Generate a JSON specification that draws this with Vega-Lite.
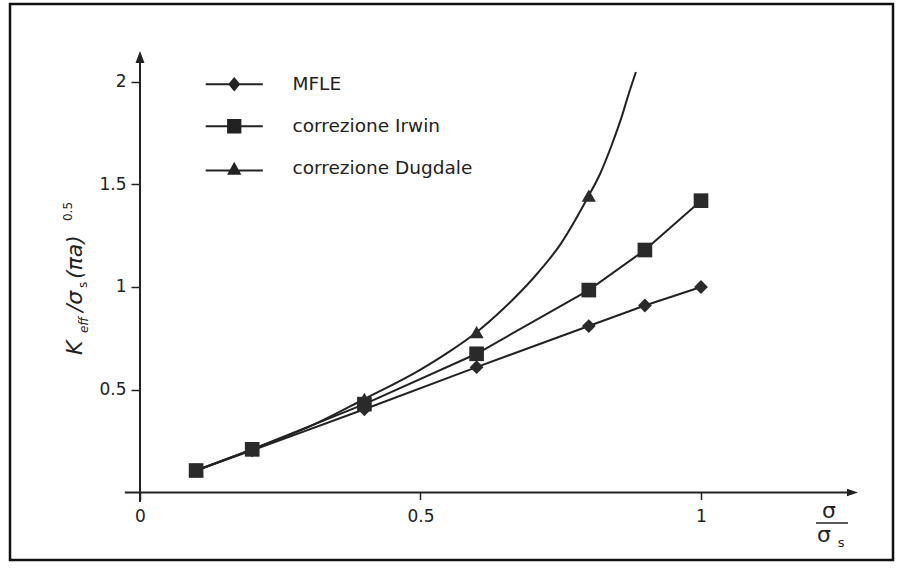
{
  "$schema": "https://vega.github.io/schema/vega-lite/v6.json",
  "width": 883,
  "height": 556,
  "autosize": {"type": "none"},
  "padding": {"left": 10, "top": 4, "right": 10, "bottom": 11},
  "background": "white",
  "config": {
    "view": {"stroke": "#111", "strokeWidth": 2.5},
    "axis": {"grid": false, "domain": false, "tickColor": "#222", "tickWidth": 1.5, "labelColor": "#222", "labelFont": "DejaVu Sans", "labelFontSize": 17, "title": null}
  },
  "data": {
    "values": [
      {"series": "correzione Dugdale", "x": 0.1, "y": 0.107, "marker": true},
      {"series": "correzione Dugdale", "x": 0.2, "y": 0.21, "marker": true},
      {"series": "correzione Dugdale", "x": 0.3, "y": 0.318, "marker": false},
      {"series": "correzione Dugdale", "x": 0.4, "y": 0.455, "marker": true},
      {"series": "correzione Dugdale", "x": 0.5, "y": 0.598, "marker": false},
      {"series": "correzione Dugdale", "x": 0.55, "y": 0.683, "marker": false},
      {"series": "correzione Dugdale", "x": 0.6, "y": 0.78, "marker": true},
      {"series": "correzione Dugdale", "x": 0.65, "y": 0.9, "marker": false},
      {"series": "correzione Dugdale", "x": 0.7, "y": 1.04, "marker": false},
      {"series": "correzione Dugdale", "x": 0.75, "y": 1.21, "marker": false},
      {"series": "correzione Dugdale", "x": 0.8, "y": 1.445, "marker": true},
      {"series": "correzione Dugdale", "x": 0.82, "y": 1.55, "marker": false},
      {"series": "correzione Dugdale", "x": 0.84, "y": 1.685, "marker": false},
      {"series": "correzione Dugdale", "x": 0.86, "y": 1.84, "marker": false},
      {"series": "correzione Dugdale", "x": 0.87, "y": 1.93, "marker": false},
      {"series": "correzione Dugdale", "x": 0.884, "y": 2.046, "marker": false},
      {"series": "MFLE", "x": 0.1, "y": 0.107, "marker": true},
      {"series": "MFLE", "x": 0.2, "y": 0.205, "marker": true},
      {"series": "MFLE", "x": 0.4, "y": 0.405, "marker": true},
      {"series": "MFLE", "x": 0.6, "y": 0.61, "marker": true},
      {"series": "MFLE", "x": 0.8, "y": 0.81, "marker": true},
      {"series": "MFLE", "x": 0.9, "y": 0.91, "marker": true},
      {"series": "MFLE", "x": 1.0, "y": 1.0, "marker": true},
      {"series": "correzione Irwin", "x": 0.1, "y": 0.107, "marker": true},
      {"series": "correzione Irwin", "x": 0.2, "y": 0.21, "marker": true},
      {"series": "correzione Irwin", "x": 0.4, "y": 0.43, "marker": true},
      {"series": "correzione Irwin", "x": 0.6, "y": 0.675, "marker": true},
      {"series": "correzione Irwin", "x": 0.8, "y": 0.985, "marker": true},
      {"series": "correzione Irwin", "x": 0.9, "y": 1.18, "marker": true},
      {"series": "correzione Irwin", "x": 1.0, "y": 1.42, "marker": true}
    ]
  },
  "layer": [
    {
      "data": {"values": [{}]},
      "mark": {"type": "rule", "color": "#222", "strokeWidth": 2},
      "encoding": {
        "x": {"datum": -0.027, "type": "quantitative", "scale": {"domain": [-0.23173, 1.34225], "nice": false, "zero": false}, "axis": {"values": [0, 0.5, 1], "offset": -67.5, "tickSize": 7, "labelPadding": 9, "format": "~g"}},
        "x2": {"datum": 1.27},
        "y": {"datum": 0, "type": "quantitative", "scale": {"domain": [-0.32847, 2.37713], "nice": false, "zero": false}, "axis": {"values": [0.5, 1, 1.5, 2], "offset": -130, "tickSize": 9, "labelPadding": 5, "format": "~g"}}
      }
    },
    {
      "data": {"values": [{}]},
      "mark": {"type": "rule", "color": "#222", "strokeWidth": 2},
      "encoding": {
        "x": {"datum": 0, "type": "quantitative"},
        "y": {"datum": -0.046, "type": "quantitative"},
        "y2": {"datum": 2.12}
      }
    },
    {
      "data": {"values": [{}]},
      "mark": {"type": "point", "filled": true, "color": "#222", "opacity": 1, "size": 121, "shape": "M1,0L-1,-0.7L-1,0.7Z"},
      "encoding": {"x": {"datum": 1.2701, "type": "quantitative"}, "y": {"datum": 0, "type": "quantitative"}}
    },
    {
      "data": {"values": [{}]},
      "mark": {"type": "point", "filled": true, "color": "#222", "opacity": 1, "size": 144, "shape": "M0,-1L0.75,1L-0.75,1Z"},
      "encoding": {"x": {"datum": 0, "type": "quantitative"}, "y": {"datum": 2.119, "type": "quantitative"}}
    },
    {
      "transform": [{"filter": "datum.series !== 'correzione Dugdale'"}],
      "mark": {"type": "line", "color": "#222", "strokeWidth": 2},
      "encoding": {
        "x": {"field": "x", "type": "quantitative"},
        "y": {"field": "y", "type": "quantitative"},
        "detail": {"field": "series"}
      }
    },
    {
      "transform": [{"filter": "datum.series === 'correzione Dugdale'"}],
      "mark": {"type": "line", "color": "#222", "strokeWidth": 2, "interpolate": "monotone"},
      "encoding": {
        "x": {"field": "x", "type": "quantitative"},
        "y": {"field": "y", "type": "quantitative"}
      }
    },
    {
      "transform": [{"filter": "datum.marker && datum.series === 'correzione Dugdale'"}],
      "mark": {"type": "point", "filled": true, "color": "#2a2a2a", "opacity": 1, "size": 200, "shape": "triangle-up"},
      "encoding": {
        "x": {"field": "x", "type": "quantitative"},
        "y": {"field": "y", "type": "quantitative"}
      }
    },
    {
      "transform": [{"filter": "datum.series === 'MFLE'"}],
      "mark": {"type": "point", "filled": true, "color": "#2a2a2a", "opacity": 1, "size": 190, "shape": "diamond"},
      "encoding": {
        "x": {"field": "x", "type": "quantitative"},
        "y": {"field": "y", "type": "quantitative"}
      }
    },
    {
      "transform": [{"filter": "datum.series === 'correzione Irwin'"}],
      "mark": {"type": "point", "filled": true, "color": "#2a2a2a", "opacity": 1, "size": 215, "shape": "square"},
      "encoding": {
        "x": {"field": "x", "type": "quantitative"},
        "y": {"field": "y", "type": "quantitative"}
      }
    },
    {
      "transform": [{"filter": "false"}],
      "mark": {"type": "point", "filled": true, "color": "#222", "opacity": 1},
      "encoding": {
        "x": {"field": "x", "type": "quantitative"},
        "y": {"field": "y", "type": "quantitative"},
        "shape": {
          "field": "series",
          "type": "nominal",
          "scale": {
            "domain": ["MFLE", "correzione Irwin", "correzione Dugdale"],
            "range": [
              "M-4,-0.14L4,-0.14L4,0.14L-4,0.14ZM0,-1L0.85,0L0,1L-0.85,0Z",
              "M-4,-0.14L4,-0.14L4,0.14L-4,0.14ZM-1,-1L1,-1L1,1L-1,1Z",
              "M-4,0.18L4,0.18L4,0.46L-4,0.46ZM0,-0.9L1,0.9L-1,0.9Z"
            ]
          },
          "legend": {
            "title": null,
            "orient": "none",
            "legendX": 215,
            "legendY": 71,
            "padding": 0,
            "labelFont": "DejaVu Sans",
            "labelFontSize": 18.5,
            "labelColor": "#222",
            "labelLimit": 0,
            "labelOffset": 49,
            "rowPadding": 23,
            "symbolSize": 204,
            "symbolStrokeWidth": 0,
            "symbolFillColor": "#222",
            "symbolOpacity": 1
          }
        }
      }
    },
    {
      "data": {"values": [{}]},
      "mark": {"type": "text", "text": "K", "font": "DejaVu Sans", "fontStyle": "italic", "fontSize": 22, "angle": 270, "align": "left", "baseline": "alphabetic", "color": "#222"},
      "encoding": {"x": {"datum": -0.1034, "type": "quantitative"}, "y": {"datum": 0.669, "type": "quantitative"}}
    },
    {
      "data": {"values": [{}]},
      "mark": {"type": "text", "text": "eff", "font": "DejaVu Sans", "fontStyle": "italic", "fontSize": 12, "angle": 270, "align": "left", "baseline": "alphabetic", "color": "#222"},
      "encoding": {"x": {"datum": -0.0927, "type": "quantitative"}, "y": {"datum": 0.776, "type": "quantitative"}}
    },
    {
      "data": {"values": [{}]},
      "mark": {"type": "text", "text": "/σ", "font": "DejaVu Sans", "fontStyle": "italic", "fontSize": 22, "angle": 270, "align": "left", "baseline": "alphabetic", "color": "#222"},
      "encoding": {"x": {"datum": -0.1034, "type": "quantitative"}, "y": {"datum": 0.878, "type": "quantitative"}}
    },
    {
      "data": {"values": [{}]},
      "mark": {"type": "text", "text": "s", "font": "DejaVu Sans", "fontSize": 12, "angle": 270, "align": "left", "baseline": "alphabetic", "color": "#222"},
      "encoding": {"x": {"datum": -0.0945, "type": "quantitative"}, "y": {"datum": 0.995, "type": "quantitative"}}
    },
    {
      "data": {"values": [{}]},
      "mark": {"type": "text", "text": "(πa)", "font": "DejaVu Sans", "fontStyle": "italic", "fontSize": 22, "angle": 270, "align": "left", "baseline": "alphabetic", "color": "#222"},
      "encoding": {"x": {"datum": -0.1034, "type": "quantitative"}, "y": {"datum": 1.039, "type": "quantitative"}}
    },
    {
      "data": {"values": [{}]},
      "mark": {"type": "text", "text": "0.5", "font": "DejaVu Sans", "fontSize": 12, "angle": 270, "align": "left", "baseline": "alphabetic", "color": "#222"},
      "encoding": {"x": {"datum": -0.1212, "type": "quantitative"}, "y": {"datum": 1.321, "type": "quantitative"}}
    },
    {
      "data": {"values": [{}]},
      "mark": {"type": "text", "text": "σ", "font": "DejaVu Sans", "fontSize": 22, "align": "center", "baseline": "alphabetic", "color": "#222"},
      "encoding": {"x": {"datum": 1.2282, "type": "quantitative"}, "y": {"datum": -0.1241, "type": "quantitative"}}
    },
    {
      "data": {"values": [{}]},
      "mark": {"type": "rule", "color": "#222", "strokeWidth": 1.5},
      "encoding": {"x": {"datum": 1.205, "type": "quantitative"}, "x2": {"datum": 1.262}, "y": {"datum": -0.1484, "type": "quantitative"}}
    },
    {
      "data": {"values": [{}]},
      "mark": {"type": "text", "text": "σ", "font": "DejaVu Sans", "fontSize": 22, "align": "center", "baseline": "alphabetic", "color": "#222"},
      "encoding": {"x": {"datum": 1.2193, "type": "quantitative"}, "y": {"datum": -0.2409, "type": "quantitative"}}
    },
    {
      "data": {"values": [{}]},
      "mark": {"type": "text", "text": "s", "font": "DejaVu Sans", "fontSize": 13, "align": "center", "baseline": "alphabetic", "color": "#222"},
      "encoding": {"x": {"datum": 1.2496, "type": "quantitative"}, "y": {"datum": -0.2652, "type": "quantitative"}}
    }
  ]
}
